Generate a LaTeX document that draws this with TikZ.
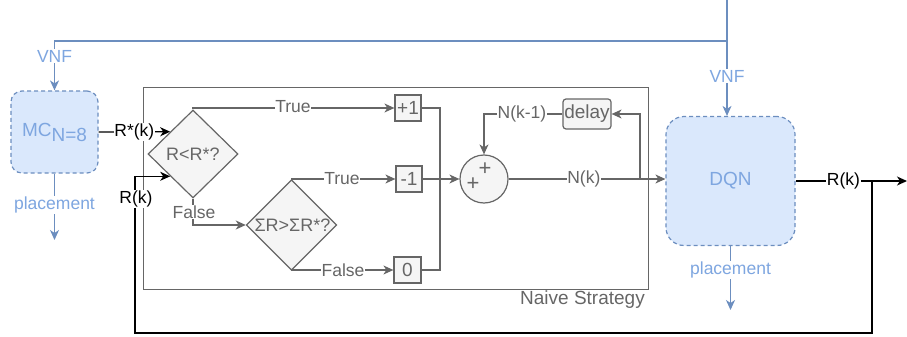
\documentclass[tikz,border=0pt]{standalone}
\usepackage{fontspec}
\setmainfont{Liberation Sans}
\usetikzlibrary{shapes.geometric,arrows.meta,calc}
\definecolor{gline}{HTML}{666666}
\definecolor{gfill}{HTML}{F5F5F5}
\definecolor{bfill}{HTML}{DAE8FC}
\definecolor{bline}{HTML}{6C8EBF}
\definecolor{btext}{HTML}{7EA6E0}
\tikzset{
  x=1pt,y=-1pt,
  every node/.style={font=\fontsize{19}{21}\selectfont, inner sep=1pt},
  tip/.style={-{Stealth[length=10pt,width=9pt,inset=3pt]}},
  gray/.style={draw=gline, line width=1.2pt, text=gline},
  blk/.style={draw=black, line width=1.3pt},
  blu/.style={draw=bline, line width=1.2pt},
  elbl/.style={font=\fontsize{17.5}{20}\selectfont, inner sep=0.5pt, fill=white},
  glbl/.style={elbl, text=gline},
  klbl/.style={elbl, text=black},
  blbl/.style={elbl, text=btext},
  bluebox/.style={draw=bline, fill=bfill, dashed, dash pattern=on 4pt off 3pt, line width=1.2pt, text=btext},
  dia/.style={diamond, draw=gline, fill=gfill, line width=1.2pt, text=gline, inner sep=0pt, font=\fontsize{18}{20}\selectfont},
  sqbox/.style={rectangle, draw=gline, fill=gfill, line width=1.2pt, text=gline, inner sep=0pt},
}
\begin{document}
\begin{tikzpicture}
\useasboundingbox (0,0) rectangle (907,337);
% nodes
\node[bluebox, rounded corners=11pt, minimum width=87pt, minimum height=82pt] (mc) at (54.5,132) {MC\raisebox{-5pt}{N=8}};
\node[bluebox, rounded corners=18pt, minimum width=129pt, minimum height=129pt] (dqn) at (730.5,181) {DQN};
\node[draw=gline, line width=0.9pt, minimum width=505pt, minimum height=202pt, inner sep=0pt] (naive) at (395.5,188) {};
\node[text=gline, anchor=east] (naivelbl) at (646,300) {Naive Strategy};
\node[dia, minimum width=90pt, minimum height=88pt] (d1) at (193,154) {R<R*?};
\node[dia, minimum width=89pt, minimum height=88pt] (d2) at (291.5,225) {\kern2pt ΣR>ΣR*?};
\node[sqbox, minimum width=26pt, minimum height=26pt] (b1) at (408,108) {+1};
\node[sqbox, minimum width=26pt, minimum height=26pt] (b2) at (409,179) {-1};
\node[sqbox, minimum width=27pt, minimum height=26pt] (b3) at (407.5,270) {0};
\node[circle, draw=gline, fill=gfill, line width=1.2pt, minimum size=48pt, inner sep=0pt] (circ) at (484,179) {};
\node[text=gline, font=\fontsize{22}{22}\selectfont] (p1) at (485,169) {+};
\node[text=gline, font=\fontsize{22}{22}\selectfont] (p2) at (473,184) {+};
\node[sqbox, rounded corners=3pt, minimum width=48pt, minimum height=30pt] (delay) at (587,114) {delay};
\coordinate (j1) at (440,179);
\coordinate (br) at (640,179);
\coordinate (rk) at (872,181);
\coordinate (ina) at ($(d1.west)!0.5!(d1.north)$);
\coordinate (inb) at ($(d1.west)!0.5!(d1.south)$);
\coordinate (vt) at (727,0);
\coordinate (vc) at (727,41);
\coordinate (mcp) at (54.5,240);
\coordinate (dqp) at (730.5,310);
\coordinate (out) at (907,181);
% blue connectors
\draw[blu, tip] (vt) -- (vt |- dqn.north);
\node[blbl] (vnf2) at (727,76) {VNF};
\draw[blu, tip] (vc) -| (mc.north);
\node[blbl] (vnf1) at (54.5,56) {VNF};
\draw[blu, tip] (mc.south) -- (mcp);
\node[blbl] (pl1) at (54.5,205) {placement};
\draw[blu, tip] (dqn.south) -- (dqp);
\node[blbl] (pl2) at (730.5,270) {placement};
% black connectors
\draw[blk, tip] (mc.east) -- (ina) node[klbl, midway] (rstar) {R*(k)};
\draw[blk, tip] (dqn.east) -- (out) node[klbl, pos=0.43] (rk1) {R(k)};
\draw[blk, tip] (rk) |- (135,333) |- (inb);
\node[klbl] (rk2) at (136,199) {R(k)};
% gray connectors
\draw[gray, tip] (d1.north) |- (b1.west);
\node[glbl] (t1) at (293,107) {True};
\draw[gray, tip] (d1.south) |- (d2.west);
\node[glbl] (f1) at (194,212) {False};
\draw[gray, tip] (d2.north) |- (b2.west);
\node[glbl] (t2) at (342,179) {True};
\draw[gray, tip] (d2.south) |- (b3.west);
\node[glbl] (f2) at (343,270) {False};
\draw[gray] (b1.east) -| (j1);
\draw[gray] (b3.east) -| (j1);
\draw[gray, tip] (b2.east) -- (circ.west);
\draw[gray, tip] (circ.east) -- (circ.east -| dqn.west) node[glbl, pos=0.48] (nk) {N(k)};
\draw[gray, tip] (br) |- (delay.east);
\draw[gray, tip] (delay.west) -| (circ.north);
\node[glbl] (nk1) at (522,114) {N(k-1)};
\end{tikzpicture}
\end{document}
